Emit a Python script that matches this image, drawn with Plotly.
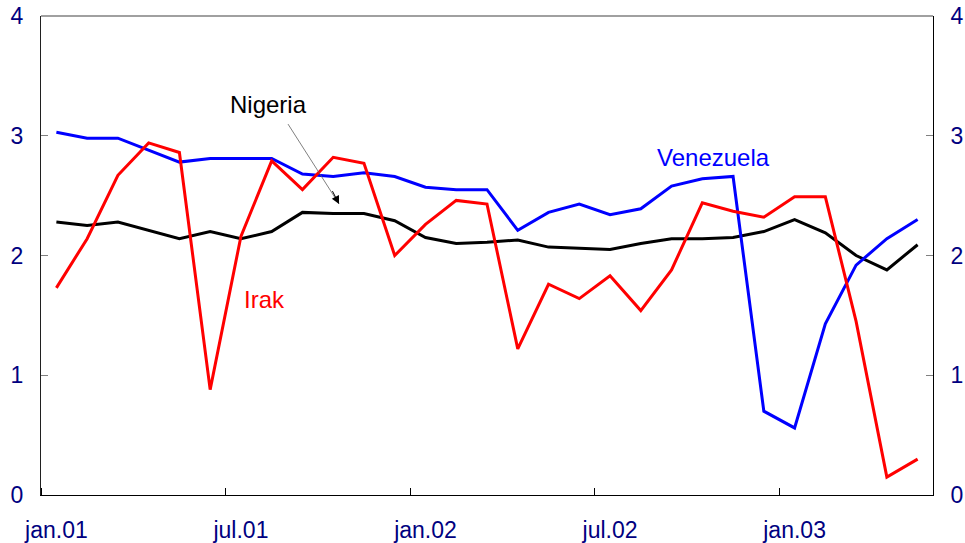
import plotly.graph_objects as go

months = ["jan.01","feb.01","mar.01","apr.01","mai.01","jun.01","jul.01","aug.01","sep.01","okt.01","nov.01","des.01",
          "jan.02","feb.02","mar.02","apr.02","mai.02","jun.02","jul.02","aug.02","sep.02","okt.02","nov.02","des.02",
          "jan.03","feb.03","mar.03","apr.03","mai.03"]
irak = [1.73, 2.14, 2.67, 2.94, 2.86, 0.88, 2.16, 2.79, 2.55, 2.82, 2.77, 2.00,
        2.26, 2.46, 2.43, 1.22, 1.76, 1.64, 1.83, 1.54, 1.88, 2.44, 2.37, 2.32,
        2.49, 2.49, 1.45, 0.15, 0.30]
venezuela = [3.03, 2.98, 2.98, 2.88, 2.78, 2.81, 2.81, 2.81, 2.68, 2.66, 2.69, 2.66,
             2.57, 2.55, 2.55, 2.21, 2.36, 2.43, 2.34, 2.39, 2.58, 2.64, 2.66, 0.70,
             0.56, 1.43, 1.92, 2.14, 2.30]
nigeria = [2.28, 2.25, 2.28, 2.21, 2.14, 2.20, 2.14, 2.20, 2.36, 2.35, 2.35, 2.29,
           2.15, 2.10, 2.11, 2.13, 2.07, 2.06, 2.05, 2.10, 2.14, 2.14, 2.15, 2.20,
           2.30, 2.19, 2.00, 1.88, 2.09]
tick_labels = ["jan.01", "jul.01", "jan.02", "jul.02", "jan.03"]
y_ticks = [0, 1, 2, 3, 4]

idx = list(range(len(months)))
FONT = "Liberation Sans, Arial, sans-serif"
NAVY = "#000080"
TICK_SIZE = 23
ANN_SIZE = 24

fig = go.Figure()
fig.add_trace(go.Scatter(x=idx, y=nigeria, mode="lines", line=dict(color="black", width=3), name="Nigeria"))
fig.add_trace(go.Scatter(x=idx, y=venezuela, mode="lines", line=dict(color="#0000FF", width=3), name="Venezuela"))
fig.add_trace(go.Scatter(x=idx, y=irak, mode="lines", line=dict(color="#FF0000", width=3), name="Irak"))
# invisible trace for right axis
fig.add_trace(go.Scatter(x=[idx[0]], y=[nigeria[0]], mode="lines", line=dict(width=0), yaxis="y2",
                         showlegend=False, hoverinfo="skip"))

fig.update_layout(
    width=965, height=543,
    margin=dict(l=41, r=32, t=16, b=48, autoexpand=False),
    paper_bgcolor="white", plot_bgcolor="white",
    showlegend=False,
    font=dict(family=FONT, size=TICK_SIZE, color=NAVY),
    xaxis=dict(
        range=[-0.5, len(months) - 0.5],
        tickmode="array",
        tickvals=[months.index(t) for t in tick_labels],
        ticktext=tick_labels,
        ticks="",
        automargin=False,
        showgrid=False, zeroline=False,
        showline=True, linecolor="black", linewidth=1,
        tickfont=dict(family=FONT, size=TICK_SIZE, color=NAVY),
        ticklabelstandoff=14,
        minor=dict(ticks="inside", tick0=-0.5, dtick=6, ticklen=7, tickcolor="black", tickwidth=1),
    ),
    yaxis=dict(
        range=[0, 4], tickmode="array", tickvals=y_ticks,
        ticks="inside", ticklen=7, tickcolor="#808080", tickwidth=1,
        automargin=False,
        showgrid=False, zeroline=False,
        showline=True, linecolor="#202020", linewidth=1,
        tickfont=dict(family=FONT, size=TICK_SIZE, color=NAVY),
        ticklabelstandoff=12,
    ),
    yaxis2=dict(
        range=[0, 4], tickmode="array", tickvals=y_ticks,
        overlaying="y", side="right",
        ticks="inside", ticklen=7, tickcolor="#808080", tickwidth=1,
        automargin=False,
        showgrid=False, zeroline=False,
        showline=True, linecolor="black", linewidth=1,
        tickfont=dict(family=FONT, size=TICK_SIZE, color=NAVY),
        ticklabelstandoff=12,
    ),
    shapes=[dict(type="line", xref="paper", yref="paper", x0=0, x1=1, y0=1, y1=1,
                 line=dict(color="#808080", width=1.5))],
    annotations=[
        dict(x=6.88, y=3.265, xref="x", yref="y", text="Nigeria", showarrow=False,
             font=dict(family=FONT, size=ANN_SIZE, color="black")),
        dict(x=6.75, y=1.63, xref="x", yref="y", text="Irak", showarrow=False,
             font=dict(family=FONT, size=ANN_SIZE, color="#FF0000")),
        dict(x=21.35, y=2.82, xref="x", yref="y", text="Venezuela", showarrow=False,
             font=dict(family=FONT, size=ANN_SIZE, color="#0000FF")),
        dict(x=9.19, y=2.43, ax=7.5, ay=3.11, xref="x", yref="y", axref="x", ayref="y",
             text="", showarrow=True, arrowhead=0, arrowwidth=0.8, arrowcolor="#606060"),
        dict(x=9.19, y=2.43, ax=8.95, ay=2.55, xref="x", yref="y", axref="x", ayref="y",
             text="", showarrow=True, arrowhead=2, arrowsize=1.6, arrowwidth=1, arrowcolor="black"),
    ],
)

fig.write_html("out.html", config={"displayModeBar": False},
               post_script="document.body.style.margin='0';document.body.style.overflow='hidden';")
